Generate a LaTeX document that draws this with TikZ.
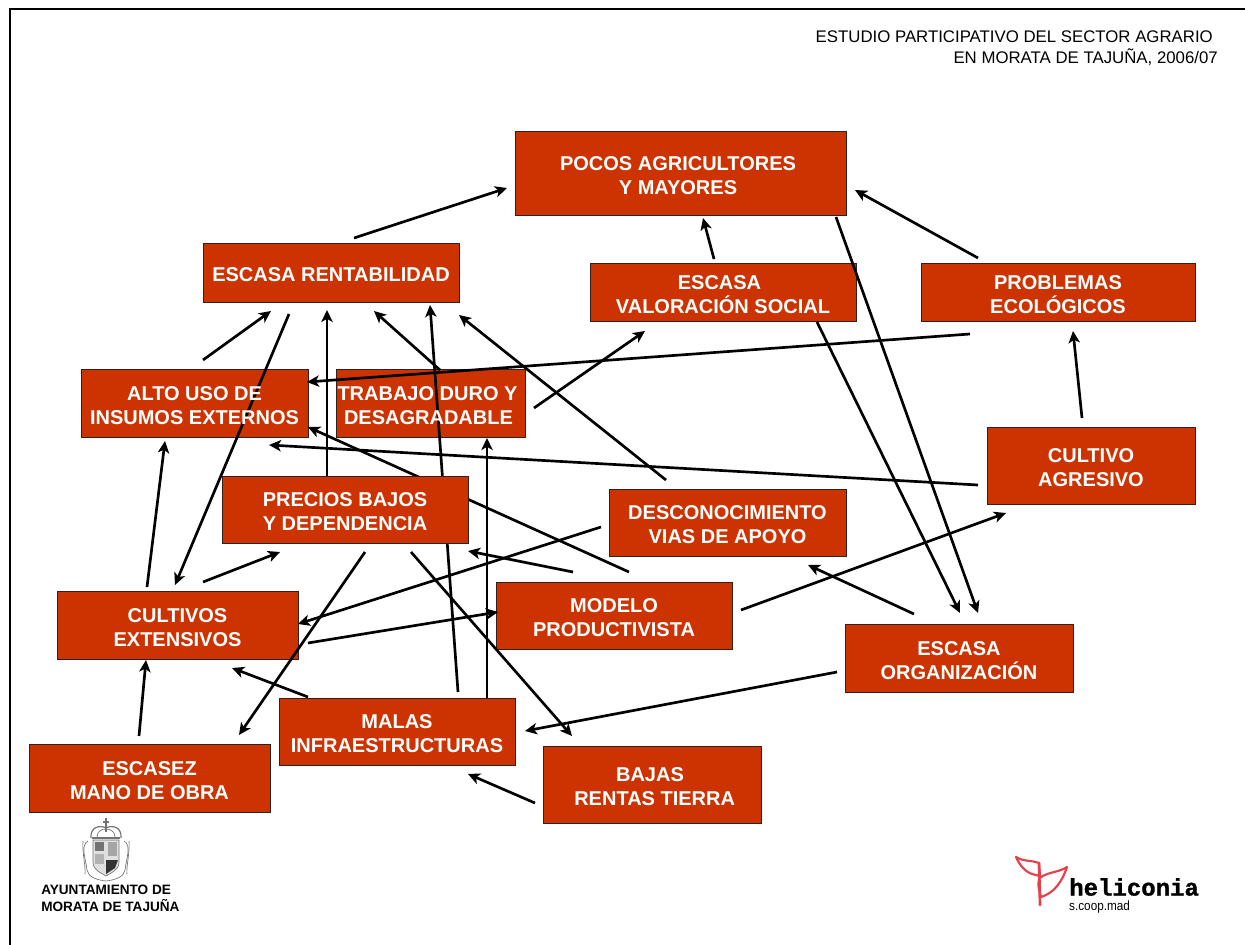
\documentclass[tikz,border=0pt]{standalone}
\usepackage{fontspec}
\setmainfont{Liberation Sans}
\newfontfamily\logofont[BoldFeatures={FakeBold=1.2}]{Liberation Mono}
\usetikzlibrary{arrows.meta}
\pgfdeclarelayer{background}
\pgfdeclarelayer{foreground}
\pgfsetlayers{background,main,foreground}
\definecolor{boxred}{HTML}{CC3300}
\definecolor{boxedge}{HTML}{33201A}
\definecolor{leafred}{HTML}{E8404A}
\tikzset{
  boxtext/.style={inner sep=0pt,outer sep=0pt,align=center,text=white,
    font=\fontsize{15pt}{18pt}\selectfont\bfseries},
  boxpaint/.style={fill=boxred,draw=boxedge,line width=0.7pt},
  conn/.style={draw=black,line width=2pt,-{Stealth[length=9pt,width=8.5pt,inset=2.4pt]}},
  crest/.style={draw=black!55,line width=0.5pt},
}
% name, left, top, right, bottom (pixels of the reference), options, text
\newcommand\bx[7][]{%
  \expandafter\xdef\csname L#2\endcsname{#3}%
  \expandafter\xdef\csname T#2\endcsname{#4}%
  \node[boxtext,minimum width={(#5-#3)*0.75pt},minimum height={(#6-#4)*0.75pt},#1]
    (#2) at ({(#3+#5)/2},{(#4+#6)/2}) {\rule{0pt}{14pt}#7};}
% from node, x, y, to node, x, y
\newcommand\link[6]{%
  \draw[conn] ([shift={({#2-\csname L#1\endcsname},{#3-\csname T#1\endcsname})}]#1.north west)
    -- ([shift={({#5-\csname L#4\endcsname},{#6-\csname T#4\endcsname})}]#4.north west);}
\begin{document}
\begin{tikzpicture}[x=0.75pt,y=-0.75pt]
\useasboundingbox (0,0) rectangle (1245,945);
\begin{pgfonlayer}{background}
\fill[white] (0,0) rectangle (1245,945);
\end{pgfonlayer}
\coordinate (frameTR) at (1245,9.5);
\coordinate (frameTL) at (9.5,9.5);
\coordinate (frameBL) at (9.5,945);
\draw[line width=1.5pt] (frameTR) -- (frameTL) -- (frameBL);

\begin{pgfonlayer}{foreground}
\bx{pocos}{515}{131}{846}{215}{POCOS AGRICULTORES\hspace*{3.75pt}\\Y MAYORES\hspace*{3.75pt}}
\bx{rent}{203}{243}{459}{302}{ESCASA RENTABILIDAD}
\bx{valor}{590}{263}{856}{321}{ESCASA\hspace*{5.25pt}\\VALORACIÓN SOCIAL}
\bx{ecol}{921}{263}{1195}{321}{PROBLEMAS\\ECOLÓGICOS}
\bx{alto}{81}{369}{308}{437}{ALTO USO DE\\INSUMOS EXTERNOS}
\bx{duro}{336}{369}{525}{437}{TRABAJO DURO Y\hspace*{4.5pt}\\\hspace*{1.5pt}DESAGRADABLE\hspace*{4.5pt}}
\bx[boxpaint]{precios}{222}{476}{468}{543}{PRECIOS BAJOS\\Y DEPENDENCIA}
\bx{desc}{609}{489}{846}{556}{DESCONOCIMIENTO\\VIAS DE APOYO}
\bx{agres}{987}{427}{1195}{504}{CULTIVO\\AGRESIVO}
\bx{exten}{57}{591}{298}{659}{CULTIVOS\\EXTENSIVOS}
\bx{model}{496}{582}{732}{649}{MODELO\\PRODUCTIVISTA}
\bx{organ}{845}{624}{1073}{692}{ESCASA\\ORGANIZACIÓN}
\bx{infra}{279}{698}{515}{765}{MALAS\\INFRAESTRUCTURAS}
\bx{obra}{29}{744}{270}{812}{ESCASEZ\\MANO DE OBRA}
\bx{tierra}{543}{746}{761}{823}{BAJAS\hspace*{3pt}\\\hspace*{4pt}RENTAS TIERRA}
\end{pgfonlayer}

\begin{pgfonlayer}{background}
\foreach \n in {pocos,rent,valor,ecol,alto,duro,desc,agres,exten,model,organ,infra,obra,tierra}
  \path[boxpaint] (\n.north west) rectangle (\n.south east);
\end{pgfonlayer}

\link{rent}{354}{238}{pocos}{507}{188}
\link{valor}{714}{259}{pocos}{703}{218}
\link{ecol}{978}{258}{pocos}{855}{190}
\link{ecol}{970}{334}{alto}{307}{382}
\link{agres}{1082}{418}{ecol}{1073}{331}
\link{agres}{978}{485}{alto}{269}{445}
\link{alto}{203}{360}{rent}{271}{311}
\link{rent}{289}{314}{exten}{175}{585}
\link{precios}{327}{476}{rent}{327}{310}
\link{duro}{440}{370}{rent}{374}{311}
\link{infra}{458}{692}{rent}{430}{305}
\link{desc}{666}{480}{rent}{459}{315}
\link{duro}{534}{408}{valor}{645}{331}
\link{infra}{487}{698}{duro}{487}{438}
\link{exten}{147}{587}{alto}{165}{441}
\link{exten}{203}{582}{precios}{280}{552}
\link{desc}{601}{527}{exten}{298}{624}
\link{exten}{308}{643}{model}{498}{612}
\link{model}{573}{572}{precios}{468}{551}
\link{model}{629}{572}{alto}{308}{427}
\link{model}{741}{610}{agres}{1006}{513}
\link{precios}{365}{552}{obra}{239}{735}
\link{precios}{411}{552}{tierra}{572}{736}
\link{obra}{139}{736}{exten}{146}{660}
\link{infra}{308}{697}{exten}{232}{668}
\link{organ}{837}{672}{infra}{525}{731}
\link{tierra}{535}{803}{infra}{468}{774}
\link{organ}{914}{614}{desc}{808}{565}
\link{valor}{817}{322}{organ}{960}{613}
\link{pocos}{836}{217}{organ}{978}{613}

% header
\node[anchor=east,inner sep=0pt,font=\fontsize{12.6pt}{15pt}\selectfont] (head1) at (1213,37) {ESTUDIO PARTICIPATIVO DEL SECTOR AGRARIO};
\node[anchor=east,inner sep=0pt,font=\fontsize{12.6pt}{15pt}\selectfont] (head2) at (1218,57) {EN MORATA DE TAJUÑA, 2006/07};

% municipal crest
\begin{scope}
\draw[crest,line width=0.9pt] (106,818) -- (106,832) (103,822) -- (109,822);
\draw[crest,line width=0.9pt] (91,838) .. controls (90,826) and (101,825) .. (106,828)
   .. controls (111,825) and (122,826) .. (121,838);
\draw[crest] (97,837) .. controls (97,831) and (102,829) .. (106,829)
   .. controls (110,829) and (115,831) .. (115,837);
\draw[crest,line width=1pt] (92,838) -- (120,838);
\draw[crest,fill=black!12] (93,840) -- (119,840) -- (119,862)
   .. controls (119,871) and (110,873) .. (106,876)
   .. controls (102,873) and (93,871) .. (93,862) -- cycle;
\fill[black!55] (95,842) rectangle (104,851);
\fill[black!35] (108,842) rectangle (117,856);
\fill[black!30] (95,854) rectangle (104,864);
\fill[black!80] (106,860) -- (118,860) -- (115,868) -- (106,874) -- cycle;
\draw[crest] (88,841) .. controls (80,845) and (86,860) .. (87,870)
   .. controls (88,877) and (97,880) .. (106,881)
   .. controls (115,880) and (124,877) .. (125,870)
   .. controls (126,860) and (132,845) .. (124,841);
\draw[crest] (83,841) .. controls (82,852) and (86,868) .. (85,874);
\draw[crest] (129,841) .. controls (130,852) and (126,868) .. (127,874);
\end{scope}
\node[anchor=west,inner sep=0pt,font=\fontsize{10.2pt}{12pt}\selectfont\bfseries] (ayto1) at (41,890) {AYUNTAMIENTO DE};
\node[anchor=west,inner sep=0pt,font=\fontsize{10.2pt}{12pt}\selectfont\bfseries] (ayto2) at (41,906) {MORATA DE TAJUÑA};

% heliconia logo
\begin{scope}[draw=leafred,line width=1.6pt,line cap=round,line join=round]
\draw (1016,857) .. controls (1024,862) and (1032,860) .. (1039,863) -- (1040,876)
   .. controls (1032,874) and (1024,874) .. (1016,857);
\draw (1067,867) .. controls (1058,873) and (1045,872) .. (1039,879)
   .. controls (1037,886) and (1040,892) .. (1041,897)
   .. controls (1054,893) and (1062,882) .. (1067,867);
\draw[line width=2pt] (1039,863) -- (1040,905);
\end{scope}
\node[anchor=west,inner sep=0pt,font=\logofont\fontsize{18pt}{20pt}\selectfont\bfseries] (helic) at (1069,887) {heliconia};
\node[anchor=west,inner sep=0pt,xscale=0.88,font=\fontsize{10pt}{12pt}\selectfont] (coop) at (1069,907) {s.coop.mad};
\end{tikzpicture}
\end{document}
